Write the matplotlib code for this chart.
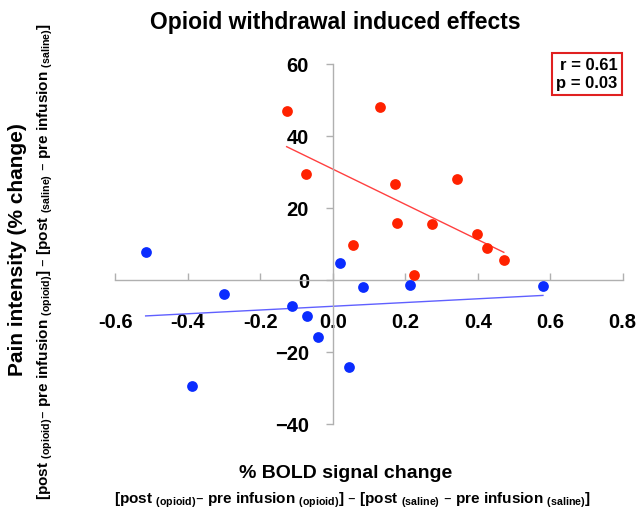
import numpy as np
import matplotlib
matplotlib.use('Agg')
from matplotlib import pyplot as plt

plt.rcParams['font.family'] = ['Liberation Sans', 'DejaVu Sans']
plt.rcParams['font.weight'] = 'bold'

# % BOLD signal change vs pain intensity change
red_x = [-0.127, 0.130, -0.074, 0.172, 0.344, 0.177, 0.273, 0.397, 0.427, 0.472, 0.055, 0.225]
red_y = [47.0, 48.0, 29.4, 26.7, 28.0, 15.8, 15.6, 12.7, 8.8, 5.5, 9.8, 1.4]

blue_x = [-0.516, -0.299, -0.111, -0.070, -0.041, 0.019, 0.083, 0.044, -0.388, 0.212, 0.580]
blue_y = [7.8, -3.9, -7.2, -10.0, -15.9, 4.8, -1.9, -24.1, -29.4, -1.3, -1.7]

x_ticks = [-0.6, -0.4, -0.2, 0.0, 0.2, 0.4, 0.6, 0.8]
y_ticks = [-40, -20, 0, 20, 40, 60]
stats = ['r = 0.61', 'p = 0.03']

W, H = 639, 515
fig = plt.figure(figsize=(W / 100, H / 100), dpi=100)
ax = fig.add_axes([115.2 / W, 1 - 424 / H, 507.5 / W, 360 / H])

red = '#ff2200'
blue = '#0a2cff'

ax.scatter(red_x, red_y, s=60, color=red, zorder=3, linewidths=0)
ax.scatter(blue_x, blue_y, s=60, color=blue, zorder=3, linewidths=0)

# linear trend lines over each group's x range
for xs, ys, c in [(red_x, red_y, '#ff4040'), (blue_x, blue_y, '#6060ff')]:
    k, b = np.polyfit(xs, ys, 1)
    xx = np.array([min(xs), max(xs)])
    ax.plot(xx, k * xx + b, color=c, lw=1, zorder=2)

ax.set_xlim(-0.6, 0.8)
ax.set_ylim(-40, 60)
ax.set_xticks(x_ticks)
ax.set_xticklabels(['%.1f' % v for v in x_ticks])
ax.set_yticks(y_ticks)

ax.spines['left'].set_position(('data', 0))
ax.spines['bottom'].set_position(('data', 0))
ax.spines['top'].set_visible(False)
ax.spines['right'].set_visible(False)
for s in ['left', 'bottom']:
    ax.spines[s].set_color('#b0b0b0')
    ax.spines[s].set_linewidth(1)

ax.tick_params(axis='x', direction='in', length=5, width=1, color='#b0b0b0',
               pad=24, labelsize=14.5)
ax.tick_params(axis='y', direction='out', length=5, width=1, color='#b0b0b0',
               pad=12, labelsize=14.5)
for lab in ax.get_xticklabels() + ax.get_yticklabels():
    lab.set_fontweight('bold')

fig.text(335 / W, 1 - 22 / H, 'Opioid withdrawal induced effects', ha='center', va='center',
         fontsize=16.5, fontweight='bold')

fig.text(346 / W, 1 - 473 / H, '% BOLD signal change', ha='center', va='center',
         fontsize=14, fontweight='bold')
sub = r'[post $_{\mathregular{(opioid)}}$– pre infusion $_{\mathregular{(opioid)}}$] – ' \
      r'[post $_{\mathregular{(saline)}}$ – pre infusion $_{\mathregular{(saline)}}$]'
fig.text(352 / W, 1 - 500 / H, sub, ha='center', va='center', fontsize=11, fontweight='bold')

fig.text(18 / W, 1 - 250 / H, 'Pain intensity (% change)', ha='center', va='center',
         rotation=90, fontsize=15, fontweight='bold')
fig.text(45 / W, 1 - 262 / H, sub, ha='center', va='center', rotation=90,
         fontsize=11, fontweight='bold')

ax.text(0.786, 61.8, '\n'.join(stats), ha='right', va='top', fontsize=12, fontweight='bold',
        linespacing=1.3, clip_on=False,
        bbox=dict(boxstyle='square,pad=0.25', facecolor='white', edgecolor='#e02020', lw=1.5))

fig.savefig('out.png', dpi=100)
